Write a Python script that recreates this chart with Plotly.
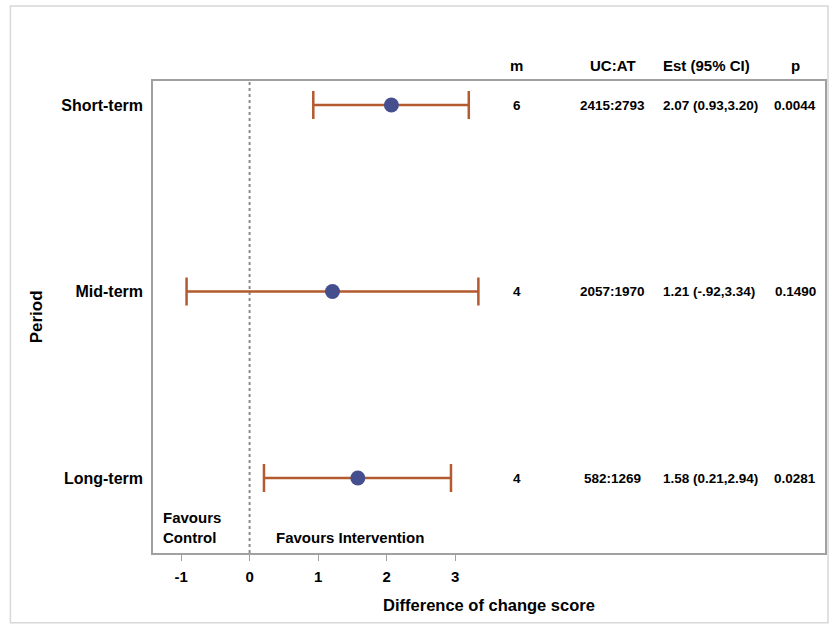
import plotly.graph_objects as go

# ---- data ----
periods = ["Short-term", "Mid-term", "Long-term"]
estimates = [2.07, 1.21, 1.58]
ci_low = [0.93, -0.92, 0.21]
ci_high = [3.20, 3.34, 2.94]
m_vals = ["6", "4", "4"]
ucat_vals = ["2415:2793", "2057:1970", "582:1269"]
est_text = ["2.07 (0.93,3.20)", "1.21 (-.92,3.34)", "1.58 (0.21,2.94)"]
p_vals = ["0.0044", "0.1490", "0.0281"]
headers = ["m", "UC:AT", "Est (95% CI)", "p"]
x_ticks = [-1, 0, 1, 2, 3]

# row positions (top to bottom)
ypos = [2, 1, 0]

FONT = "Arial, 'Liberation Sans', sans-serif"
BAR = "#B35A2E"
DOT = "#464F8E"

fig = go.Figure()
fig.add_trace(go.Scatter(
    x=estimates, y=ypos, mode="markers",
    marker=dict(size=15, color=DOT, line=dict(width=0)),
    error_x=dict(type="data", symmetric=False,
                 array=[h - e for h, e in zip(ci_high, estimates)],
                 arrayminus=[e - l for e, l in zip(estimates, ci_low)],
                 color=BAR, thickness=2.5, width=14),
    showlegend=False, hoverinfo="skip",
))

# dotted reference line at 0
fig.add_shape(type="line", xref="x", yref="paper", x0=0, x1=0, y0=0, y1=1,
              line=dict(color="#8C8C8C", width=2, dash="dot"), layer="below")

# outer light border
fig.add_shape(type="rect", xref="paper", yref="paper",
              x0=-0.2122, x1=1.0045, y0=-0.148, y1=1.159,
              line=dict(color="#D8D8D8", width=1.5))

ann = []
# table columns (paper x), alignments
col_x = [(518 - 153) / 674, (614 - 153) / 674, (663 - 153) / 674, (797 - 153) / 674]
col_anchor = ["center", "center", "left", "center"]
hdr_y = 1 + (81 - 66) / 472
for h, cx, an in zip(headers, col_x, col_anchor):
    ann.append(dict(x=cx, y=hdr_y, xref="paper", yref="paper", text="<b>%s</b>" % h,
                    showarrow=False, xanchor=an, yanchor="middle",
                    font=dict(size=15, family=FONT, color="black")))
for i, yv in enumerate(ypos):
    row = [m_vals[i], ucat_vals[i], est_text[i], p_vals[i]]
    for t, cx, an in zip(row, col_x, col_anchor):
        ann.append(dict(x=cx, y=yv, xref="paper", yref="y", text="<b>%s</b>" % t,
                        showarrow=False, xanchor=an, yanchor="middle",
                        font=dict(size=13.5, family=FONT, color="black")))

# favours labels
ann.append(dict(x=(161 - 153) / 674, y=(553 - 527) / 472, xref="paper", yref="paper",
                text="<b>Favours<br>Control</b>", showarrow=False, xanchor="left",
                yanchor="middle", align="left",
                font=dict(size=15, family=FONT, color="black")))
ann.append(dict(x=(274 - 153) / 674, y=(553 - 537) / 472, xref="paper", yref="paper",
                text="<b>Favours Intervention</b>", showarrow=False, xanchor="left",
                yanchor="middle", font=dict(size=15, family=FONT, color="black")))
# y axis title
ann.append(dict(x=(36 - 153) / 674, y=(553 - 317) / 472, xref="paper", yref="paper",
                text="<b>Period</b>", textangle=-90, showarrow=False,
                xanchor="center", yanchor="middle",
                font=dict(size=17, family=FONT, color="black")))

fig.update_layout(
    width=832, height=628,
    margin=dict(l=153, r=5, t=81, b=75),
    paper_bgcolor="white", plot_bgcolor="white",
    annotations=ann,
    font=dict(family=FONT, color="black"),
    xaxis=dict(range=[-1.41, 8.40], tickvals=x_ticks,
               ticktext=["<b>%d</b>" % v for v in x_ticks],
               ticks="outside", ticklen=6, tickcolor="#A0A0A0", tickwidth=1,
               ticklabelstandoff=3,
               showline=True, linecolor="#A0A0A0", linewidth=1.5, mirror=True,
               showgrid=False, zeroline=False,
               tickfont=dict(size=15, family=FONT, color="black"),
               title=dict(text="<b>Difference of change score</b>", standoff=16,
                          font=dict(size=16.5, family=FONT, color="black"))),
    yaxis=dict(range=[-0.402, 2.129], tickvals=ypos,
               ticktext=["<b>%s</b>" % p for p in periods],
               ticks="outside", ticklen=5, tickcolor="rgba(0,0,0,0)",
               showline=True, linecolor="#A0A0A0", linewidth=1.5, mirror=True,
               showgrid=False, zeroline=False,
               tickfont=dict(size=16, family=FONT, color="black")),
)

fig.write_html("out.html")
